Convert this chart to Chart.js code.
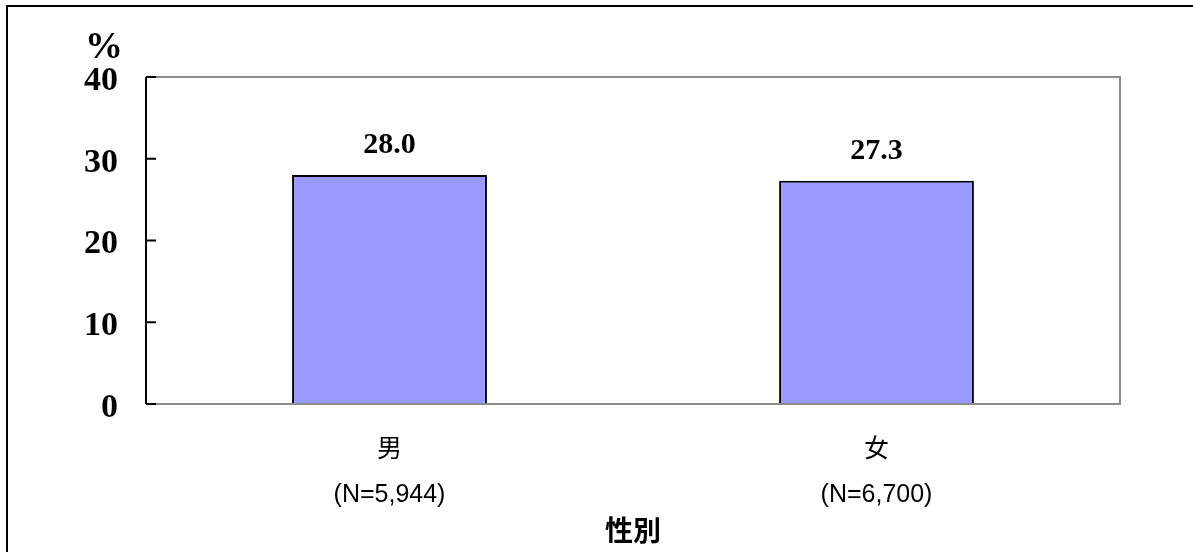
<!DOCTYPE html>
<html>
<head>
<meta charset="utf-8">
<script src="https://cdn.jsdelivr.net/npm/chart.js@4"></script>
<style>
  html, body { margin: 0; padding: 0; background: #fff; }
  #wrap { width: 1193px; height: 552px; position: relative; }
</style>
</head>
<body>
<div id="wrap"><canvas id="chart" width="1193" height="552"></canvas></div>
<script>
// data
const genders = ['男', '女'];
const sampleSizes = ['(N=5,944)', '(N=6,700)'];
const percents = [28.0, 27.3];
const yTicks = [0, 10, 20, 30, 40];

const serifBold = '"Liberation Serif", "Times New Roman", serif';

// frame, inward ticks, tick labels, value labels, % and axis title
const decorate = {
  id: 'decorate',
  afterDraw(chart) {
    const ctx = chart.ctx;
    const a = chart.chartArea;
    const y = chart.scales.y;
    ctx.save();

    // outer border
    ctx.strokeStyle = '#000';
    ctx.lineWidth = 2;
    ctx.beginPath();
    ctx.moveTo(7, 552);
    ctx.lineTo(7, 6);
    ctx.lineTo(1193, 6);
    ctx.stroke();

    // gray plot border
    ctx.strokeStyle = '#8c8c8c';
    ctx.lineWidth = 2;
    ctx.beginPath();
    ctx.moveTo(a.left, a.top);
    ctx.lineTo(a.right, a.top);
    ctx.lineTo(a.right, a.bottom);
    ctx.lineTo(a.left, a.bottom);
    ctx.stroke();

    // value axis + ticks
    ctx.strokeStyle = '#000';
    ctx.beginPath();
    ctx.moveTo(a.left, a.top);
    ctx.lineTo(a.left, a.bottom);
    yTicks.forEach(v => {
      const py = y.getPixelForValue(v);
      ctx.moveTo(a.left, py);
      ctx.lineTo(a.left + 10, py);
    });
    ctx.stroke();

    // y tick labels (sit a little below the tick like the original)
    ctx.fillStyle = '#000';
    ctx.font = 'bold 34px ' + serifBold;
    ctx.textAlign = 'right';
    ctx.textBaseline = 'middle';
    yTicks.forEach(v => {
      ctx.fillText(String(v), a.left - 28, y.getPixelForValue(v) + 4);
    });

    // value labels
    ctx.font = 'bold 30px ' + serifBold;
    ctx.textAlign = 'center';
    ctx.textBaseline = 'alphabetic';
    chart.getDatasetMeta(0).data.forEach((bar, i) => {
      ctx.fillText(percents[i].toFixed(1), bar.x, bar.y - 22);
    });

    // unit
    ctx.font = 'bold 38px ' + serifBold;
    ctx.fillText('%', 104, 58);

    // axis title
    ctx.font = 'bold 28px "Noto Sans CJK TC", sans-serif';
    ctx.textBaseline = 'middle';
    ctx.fillText('性別', (a.left + a.right) / 2, 530);

    ctx.restore();
  }
};

new Chart(document.getElementById('chart'), {
  type: 'bar',
  data: {
    labels: genders.map((g, i) => [g, sampleSizes[i]]),
    datasets: [{
      data: percents,
      backgroundColor: '#9999ff',
      borderColor: '#000',
      borderWidth: 2,
      categoryPercentage: 1,
      barPercentage: 0.4
    }]
  },
  options: {
    responsive: false,
    animation: false,
    layout: { padding: { left: 0, top: 77, right: 73, bottom: 0 } },
    plugins: { legend: { display: false }, tooltip: { enabled: false } },
    scales: {
      x: {
        grid: { display: false },
        border: { display: false },
        ticks: {
          color: '#000',
          padding: 16,
          font: { family: '"Liberation Sans", Arial, "Noto Sans CJK TC", sans-serif', size: 25, lineHeight: 1.8 }
        },
        afterFit(scale) { scale.height = 148; }
      },
      y: {
        min: 0,
        max: 40,
        grid: { display: false },
        border: { display: false },
        ticks: { display: false, stepSize: 10 },
        afterFit(scale) { scale.width = 146; }
      }
    }
  },
  plugins: [decorate]
});
</script>
</body>
</html>
